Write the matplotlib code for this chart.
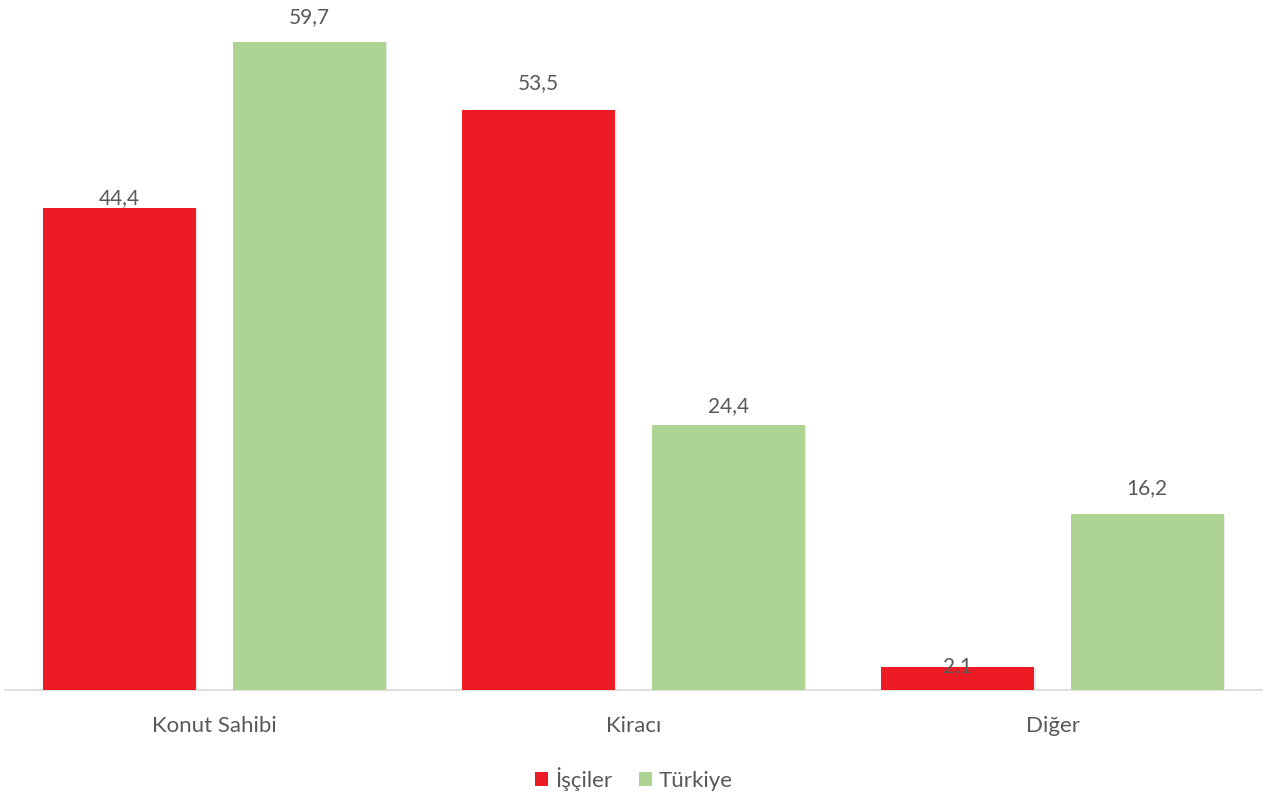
import matplotlib.pyplot as plt
import numpy as np

plt.rcParams["font.family"] = ["Lato", "DejaVu Sans"]

categories = ["Konut Sahibi", "Kiracı", "Diğer"]
isciler = [44.4, 53.5, 2.1]
turkiye = [59.7, 24.4, 16.2]
series_names = ["İşçiler", "Türkiye"]

RED = "#ED1C24"
GREEN = "#AED494"
GRAY = "#595959"

fig = plt.figure(figsize=(12.66, 7.96), dpi=100)
ax = fig.add_axes([5 / 1266, 1 - 690 / 796, 1257 / 1266, 690 / 796])

x = np.arange(len(categories))
w = 0.365
off = 0.226

b1 = ax.bar(x - off, isciler, w, color=RED, label=series_names[0], zorder=3)
b2 = ax.bar(x + off, turkiye, w, color=GREEN, label=series_names[1], zorder=3)

# soft shadow like the original
for bars in (b1, b2):
    for r in bars:
        ax.add_patch(plt.Rectangle((r.get_x() + 0.004, 0), r.get_width(), r.get_height() - 0.1,
                                   color="#000000", alpha=0.08, zorder=2, lw=0))

# label offsets (points) – Excel nudged a couple of labels down
lab_off1 = [7, 19, 1]
lab_off2 = [18, 14, 19]
for bars, vals, offs in ((b1, isciler, lab_off1), (b2, turkiye, lab_off2)):
    for r, v, o in zip(bars, vals, offs):
        ax.annotate(f"{v:.1f}".replace(".", ","), (r.get_x() + r.get_width() / 2, v),
                    xytext=(0, o), textcoords="offset points", ha="center", va="center",
                    fontsize=15, color=GRAY, zorder=5)

ax.set_xlim(-0.5, 2.5)
ax.set_ylim(0, 63.6)
ax.set_yticks([])
ax.set_xticks(x)
ax.set_xticklabels(categories, fontsize=16, color=GRAY)
ax.tick_params(axis="x", length=0, pad=19)
for s in ["top", "right", "left"]:
    ax.spines[s].set_visible(False)
ax.spines["bottom"].set_color("#D9D9D9")
ax.spines["bottom"].set_linewidth(1.2)

leg = fig.legend(handles=[b1, b2], loc="center", bbox_to_anchor=(634 / 1266, 1 - 779 / 796),
                 ncol=2, frameon=False, fontsize=16, handlelength=0.6, handleheight=0.6,
                 handletextpad=0.3, columnspacing=1.2)
for t in leg.get_texts():
    t.set_color(GRAY)

fig.savefig("out.png", dpi=100)
